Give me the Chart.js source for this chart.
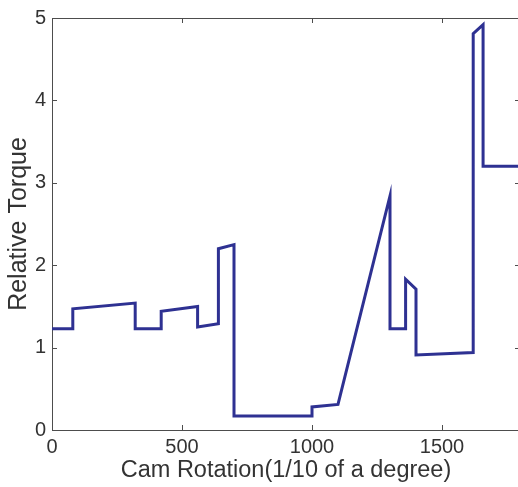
<!DOCTYPE html>
<html>
<head>
<meta charset="utf-8">
<script src="https://cdn.jsdelivr.net/npm/chart.js@4/dist/chart.umd.min.js"></script>
<style>
  html, body { margin: 0; padding: 0; background: #fff; overflow: hidden; width: 518px; height: 487px; }
  #wrap { position: absolute; left: 0; top: 0; width: 522px; height: 487px; }
</style>
</head>
<body>
<div id="wrap"><canvas id="c" width="522" height="487"></canvas></div>
<script>
// Cam rotation (1/10 degree) and relative torque
const camRotation = [0, 80, 80, 320, 320, 420, 420, 560, 560, 640, 640, 700, 700, 1000, 1000, 1100, 1300, 1300, 1360, 1360, 1400, 1400, 1620, 1620, 1658, 1658, 1800];
const relativeTorque = [1.23, 1.23, 1.47, 1.54, 1.23, 1.23, 1.44, 1.50, 1.25, 1.29, 2.20, 2.25, 0.17, 0.17, 0.28, 0.31, 2.84, 1.23, 1.23, 1.83, 1.71, 0.91, 0.94, 4.81, 4.92, 3.20, 3.20];
const xTicks = [0, 500, 1000, 1500];
const yTicks = [0, 1, 2, 3, 4, 5];

const points = camRotation.map((x, i) => ({ x: x, y: relativeTorque[i] }));
const FONT = '"Liberation Sans", Arial, Helvetica, sans-serif';
const AXIS = '#4d4d4d';
const TEXT = '#333333';

const frameTicks = {
  id: 'frameTicks',
  afterDraw(chart) {
    const ctx = chart.ctx;
    const a = chart.chartArea;
    const xs = chart.scales.x, ys = chart.scales.y;
    ctx.save();
    ctx.strokeStyle = AXIS;
    ctx.lineWidth = 1;
    ctx.beginPath();
    ctx.moveTo(a.left, a.top + 0.5); ctx.lineTo(a.right, a.top + 0.5);
    ctx.moveTo(a.right - 0.5, a.top); ctx.lineTo(a.right - 0.5, a.bottom);
    const L = 5;
    xTicks.forEach(v => {
      const px = Math.round(xs.getPixelForValue(v)) + 0.5;
      ctx.moveTo(px, a.bottom); ctx.lineTo(px, a.bottom - L);
      ctx.moveTo(px, a.top); ctx.lineTo(px, a.top + L);
    });
    yTicks.forEach(v => {
      const py = Math.round(ys.getPixelForValue(v)) + 0.5;
      ctx.moveTo(a.left, py); ctx.lineTo(a.left + L, py);
      ctx.moveTo(a.right, py); ctx.lineTo(a.right - L, py);
    });
    ctx.stroke();
    ctx.restore();
  }
};

new Chart(document.getElementById('c'), {
  type: 'scatter',
  data: {
    datasets: [{
      data: points,
      showLine: true,
      borderColor: 'rgb(46,49,146)',
      borderWidth: 3,
      pointRadius: 0,
      borderJoinStyle: 'miter',
      tension: 0,
      fill: false
    }]
  },
  options: {
    responsive: false,
    animation: false,
    devicePixelRatio: 1,
    layout: { padding: { top: 14, right: 2, left: 0, bottom: 0 } },
    plugins: { legend: { display: false }, tooltip: { enabled: false } },
    scales: {
      x: {
        type: 'linear', min: 0, max: 1800,
        afterBuildTicks: s => { s.ticks = xTicks.map(v => ({ value: v })); },
        afterFit: s => { s.height = 57; },
        grid: { display: false, drawTicks: false },
        border: { display: true, color: AXIS, width: 1 },
        ticks: { color: TEXT, font: { family: FONT, size: 20 }, padding: 5, maxRotation: 0,
                 callback: v => String(v) },
        title: { display: true, text: 'Cam Rotation(1/10 of a degree)', color: TEXT,
                 font: { family: FONT, size: 23.5 }, padding: { top: 0, bottom: 2 } }
      },
      y: {
        type: 'linear', min: 0, max: 5,
        afterBuildTicks: s => { s.ticks = yTicks.map(v => ({ value: v })); },
        afterFit: s => { s.width = 52; },
        grid: { display: false, drawTicks: false },
        border: { display: true, color: AXIS, width: 1 },
        ticks: { color: TEXT, font: { family: FONT, size: 20 }, padding: 6,
                 callback: v => String(v) },
        title: { display: true, text: 'Relative Torque', color: TEXT,
                 font: { family: FONT, size: 25 }, padding: { top: 4, bottom: 0 } }
      }
    }
  },
  plugins: [frameTicks]
});
</script>
</body>
</html>
